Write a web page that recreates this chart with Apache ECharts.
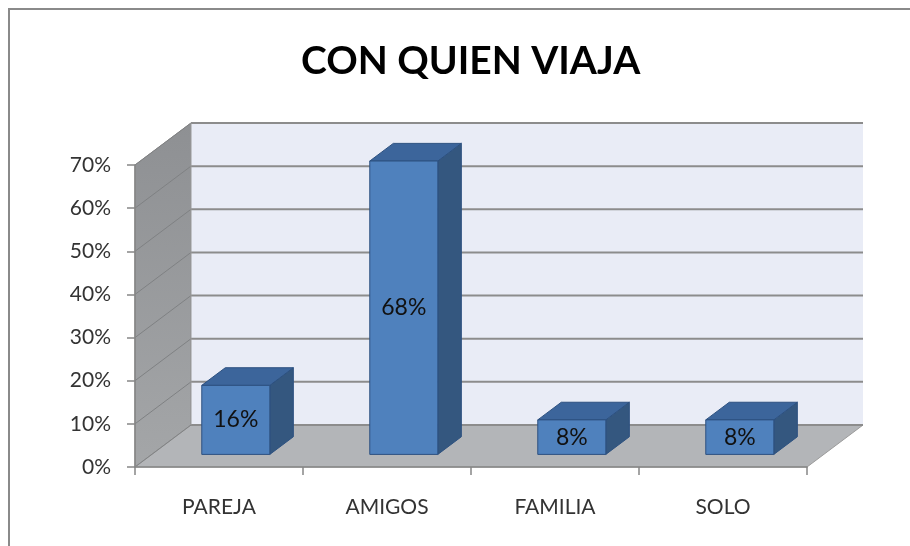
<!DOCTYPE html>
<html>
<head>
<meta charset="utf-8">
<script src="https://cdn.jsdelivr.net/npm/echarts@6/dist/echarts.min.js"></script>
<style>
  html, body { margin: 0; padding: 0; background: #fff; }
  #container { width: 910px; height: 546px; }
</style>
</head>
<body>
<div id="container"></div>
<script>
var dom = document.getElementById("container");
var myChart = echarts.init(dom);

var categories = ['PAREJA', 'AMIGOS', 'FAMILIA', 'SOLO'];
var values = [0.16, 0.68, 0.08, 0.08];
var yTicks = [0, 0.1, 0.2, 0.3, 0.4, 0.5, 0.6, 0.7];

// 3D depth of the box, in pixels
var DX = 56, DY = -42;
var F1 = 0.3, F2 = 0.72;   // bar front / back depth (fraction)

function pct(v) { return Math.round(v * 100) + '%'; }

function renderWalls(params, api) {
    var cs = params.coordSys;
    var x0 = cs.x, x1 = cs.x + cs.width;
    var yb = api.coord([0, 0])[1];
    var yt = api.coord([0, 0.7])[1];
    var children = [];
    // side wall
    children.push({
        type: 'polygon',
        shape: { points: [[x0, yb], [x0, yt], [x0 + DX, yt + DY], [x0 + DX, yb + DY]] },
        style: {
            fill: new echarts.graphic.LinearGradient(0, 0, 0, 1, [
                { offset: 0, color: '#8e9093' }, { offset: 1, color: '#a4a6a8' }
            ]),
            stroke: '#8a8a8a', lineWidth: 1
        }
    });
    // back wall
    children.push({
        type: 'rect',
        shape: { x: x0 + DX, y: yt + DY, width: x1 - x0, height: yb - yt },
        style: { fill: '#e9ecf6', stroke: null }
    });
    // floor
    children.push({
        type: 'polygon',
        shape: { points: [[x0, yb], [x1, yb], [x1 + DX, yb + DY], [x0 + DX, yb + DY]] },
        style: { fill: '#b3b5b8', stroke: '#9a9a9a', lineWidth: 1 }
    });
    // grid lines on back and side walls
    yTicks.forEach(function (v) {
        var y = api.coord([0, v])[1];
        children.push({
            type: 'line',
            shape: { x1: x0 + DX, y1: y + DY, x2: x1 + DX, y2: y + DY },
            style: { stroke: '#8c8c8c', lineWidth: 2 }
        });
        children.push({
            type: 'line',
            shape: { x1: x0, y1: y, x2: x0 + DX, y2: y + DY },
            style: { stroke: '#7f8183', lineWidth: 1 }
        });
    });
    children.push({
        type: 'line',
        shape: { x1: x0 + DX, y1: yt + DY, x2: x0 + DX, y2: yb + DY },
        style: { stroke: '#9a9a9a', lineWidth: 1 }
    });
    return { type: 'group', children: children };
}

function renderBar(params, api) {
    var idx = api.value(0);
    var val = api.value(1);
    var top = api.coord([idx, val]);
    var base = api.coord([idx, 0]);
    var w = api.size([1, 0])[0] * 0.405;
    var xl = top[0] - w / 2 + DX * F1, xr = xl + w;
    var yt = top[1] + DY * F1, yb = base[1] + DY * F1;
    var ddx = DX * (F2 - F1), ddy = DY * (F2 - F1);
    var edge = '#2d5180';
    return {
        type: 'group',
        children: [{
            type: 'polygon',
            shape: { points: [[xr, yt], [xr + ddx, yt + ddy], [xr + ddx, yb + ddy], [xr, yb]] },
            style: { fill: '#34577f', stroke: edge, lineWidth: 1 }
        }, {
            type: 'polygon',
            shape: { points: [[xl, yt], [xr, yt], [xr + ddx, yt + ddy], [xl + ddx, yt + ddy]] },
            style: { fill: '#3c659b', stroke: edge, lineWidth: 1 }
        }, {
            type: 'rect',
            shape: { x: xl, y: yt, width: w, height: yb - yt },
            style: { fill: '#4f81bd', stroke: edge, lineWidth: 1 }
        }, {
            type: 'text',
            style: {
                x: xl + w / 2, y: (yt + yb) / 2,
                text: pct(val),
                align: 'center', verticalAlign: 'middle',
                font: '23px Lato', fill: '#111'
            }
        }]
    };
}

option = {
    animation: false,
    title: {
        text: 'CON QUIEN VIAJA',
        left: 296,
        top: 37,
        textStyle: { fontFamily: 'Lato', fontWeight: 'bold', fontSize: 39, color: '#000' }
    },
    graphic: [{
        type: 'rect',
        shape: { x: 9, y: 9, width: 1000, height: 1000 },
        style: { fill: null, stroke: '#8a8a8a', lineWidth: 2 }
    }],
    grid: { left: 135, top: 165, width: 672, height: 302 },
    xAxis: {
        type: 'category',
        data: categories,
        z: 3,
        axisLine: { lineStyle: { color: '#868686', width: 1.5 } },
        axisTick: { show: true, length: 8, lineStyle: { color: '#868686', width: 1.5 } },
        axisLabel: { margin: 30, fontFamily: 'Lato', fontSize: 21, color: '#333' }
    },
    yAxis: {
        type: 'value',
        min: 0, max: 0.7, interval: 0.1,
        z: 3,
        axisLine: { show: true, lineStyle: { color: '#868686', width: 1.5 } },
        axisTick: { show: true, length: 8, lineStyle: { color: '#868686', width: 1.5 } },
        splitLine: { show: false },
        axisLabel: { margin: 24, fontFamily: 'Lato', fontSize: 21, color: '#333', formatter: pct }
    },
    series: [{
        type: 'custom',
        z: 1,
        silent: true,
        renderItem: renderWalls,
        data: [[0, 0]]
    }, {
        type: 'custom',
        z: 4,
        renderItem: renderBar,
        encode: { x: 0, y: 1 },
        data: values.map(function (v, i) { return [i, v]; })
    }]
};

myChart.setOption(option, true);
</script>
</body>
</html>
